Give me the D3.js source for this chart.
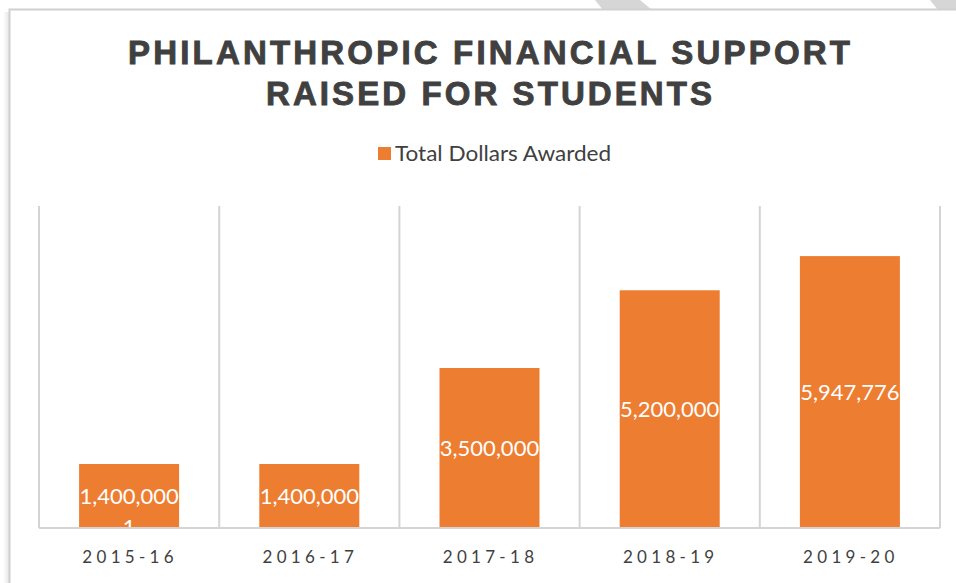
<!DOCTYPE html>
<html><head><meta charset="utf-8">
<script src="https://cdn.jsdelivr.net/npm/d3@7"></script>
<style>html,body{margin:0;padding:0;background:#fff;overflow:hidden}</style>
</head><body>
<svg id="c" width="956" height="583"></svg>
<script>
const categories = ["2015-16","2016-17","2017-18","2018-19","2019-20"];
const values = [1400000,1400000,3500000,5200000,5947776];
const valueLabels = ["1,400,000","1,400,000","3,500,000","5,200,000","5,947,776"];
const extraLabelLines = ["1","","","",""];
const titleLines = ["PHILANTHROPIC FINANCIAL SUPPORT","RAISED FOR STUDENTS"];
const seriesName = "Total Dollars Awarded";
const yDomain = [0, 7000000];

const svg = d3.select("#c");
const W = 956, H = 583;
const color = "#ED7D31", textCol = "#404040", gridCol = "#d4d4d4";

// decorative background stripes above the frame
svg.append("polygon").attr("points","595,0 640,0 652,10 603,10").attr("fill","#d6d6d6");
svg.append("polygon").attr("points","930,0 956,0 956,10 938,10").attr("fill","#d6d6d6");
// frame shadow
const defs = svg.append("defs");
const g1 = defs.append("linearGradient").attr("id","sh").attr("x1","0").attr("x2","1");
g1.append("stop").attr("offset","0").attr("stop-color","#fff");
g1.append("stop").attr("offset","1").attr("stop-color","#e6e6e6");
svg.append("rect").attr("x",3).attr("y",12).attr("width",6).attr("height",H).attr("fill","url(#sh)");
svg.append("rect").attr("x",9.5).attr("y",9.5).attr("width",W+10).attr("height",H+10)
  .attr("fill","#fff").attr("stroke","#d0d0d0").attr("stroke-width",2);

// title
svg.append("g").selectAll("text").data(titleLines).join("text")
  .attr("x",489).attr("y",(d,i)=>64+i*41).attr("text-anchor","middle")
  .attr("font-family","Liberation Sans, Arial, sans-serif").attr("font-weight","bold")
  .attr("font-size",33).attr("fill",textCol).attr("stroke",textCol).attr("stroke-width",0.9)
  .attr("textLength",(d,i)=>i===0?722:446).attr("lengthAdjust","spacing")
  .text(d=>d);

// legend
const lg = svg.append("g");
lg.append("rect").attr("x",378).attr("y",147).attr("width",13).attr("height",13).attr("fill",color);
lg.append("text").attr("x",395).attr("y",161).attr("font-family","Lato, sans-serif")
  .attr("font-size",21).attr("fill",textCol)
  .attr("textLength",216).attr("lengthAdjust","spacingAndGlyphs").text(seriesName);

// scales
const x = d3.scaleBand().domain(categories).range([39,940]).paddingInner(0.445).paddingOuter(0.2225);
const y = d3.scaleLinear().domain(yDomain).range([528,208]);
const step = x.step();

// vertical gridlines at category boundaries
const bounds = d3.range(categories.length+1).map(i=>x.range()[0]+i*step);
svg.append("g").selectAll("line").data(bounds).join("line")
  .attr("x1",d=>d).attr("x2",d=>d).attr("y1",206).attr("y2",y(0))
  .attr("stroke",gridCol).attr("stroke-width",2);

// bars
svg.append("g").selectAll("rect").data(values).join("rect")
  .attr("x",(d,i)=>x(categories[i])).attr("width",x.bandwidth())
  .attr("y",d=>y(d)).attr("height",d=>y(0)-y(d)).attr("fill",color);

// clip for labels
defs.append("clipPath").attr("id","plotclip").append("rect")
  .attr("x",0).attr("y",0).attr("width",W).attr("height",y(0));

// data labels
const lab = svg.append("g").attr("clip-path","url(#plotclip)")
  .attr("font-family","Lato, sans-serif").attr("font-size",22).attr("fill","#fff").attr("text-anchor","middle");
lab.selectAll("text.v").data(values).join("text").attr("class","v")
  .attr("x",(d,i)=>x(categories[i])+x.bandwidth()/2)
  .attr("y",d=>(y(d)+y(0))/2+8)
  .text((d,i)=>valueLabels[i]);
lab.selectAll("text.e").data(values).join("text").attr("class","e")
  .attr("x",(d,i)=>x(categories[i])+x.bandwidth()/2)
  .attr("y",d=>(y(d)+y(0))/2+8+31)
  .text((d,i)=>extraLabelLines[i]);

// baseline
svg.append("line").attr("x1",39).attr("x2",940).attr("y1",y(0)).attr("y2",y(0))
  .attr("stroke",gridCol).attr("stroke-width",2);

// x axis labels
const ax = svg.append("g").attr("transform",`translate(0,${y(0)})`)
  .call(d3.axisBottom(x).tickSize(0).tickPadding(0));
ax.select(".domain").remove();
ax.selectAll("text").attr("y",35).attr("dy",null)
  .attr("font-family","Lato, sans-serif").attr("font-size",17).attr("fill",textCol)
  .attr("letter-spacing","4.3px").attr("dx","1px");
</script>
</body></html>
